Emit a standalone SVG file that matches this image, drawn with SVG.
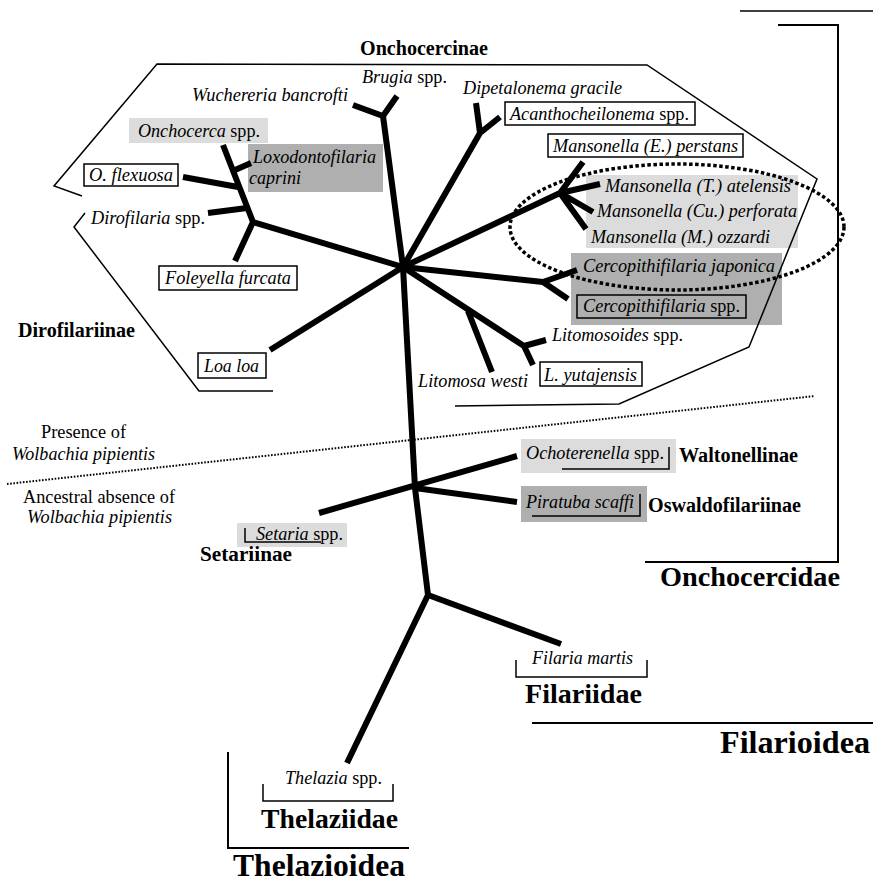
<svg xmlns="http://www.w3.org/2000/svg" width="873" height="883" viewBox="0 0 873 883">
<style>
text{font-family:"Times New Roman",Times,"Liberation Serif",serif;font-size:18px;fill:#000}
.i{font-style:italic}
.b{font-weight:bold;font-size:20px}
.B{font-weight:bold;font-size:28px}
.BB{font-weight:bold;font-size:31px}
.box{fill:#fff;stroke:#000;stroke-width:1.5}
.lt{fill:#dcdcdc}
.dk{fill:#afafaf}
.ln{fill:none;stroke:#000;stroke-width:1.5}
.br{fill:none;stroke:#000;stroke-width:6;stroke-linecap:butt;stroke-linejoin:round}
</style>
<rect width="873" height="883" fill="#fff"/>

<g id="shading">
<rect class="lt" x="129" y="118" width="139" height="25"/>
<rect class="dk" x="248" y="144" width="135" height="48"/>
<rect class="lt" x="586" y="175" width="212" height="73"/>
<rect class="dk" x="571" y="253" width="211" height="72"/>
<rect class="lt" x="521" y="439" width="155" height="34"/>
<rect class="dk" x="521" y="486" width="126" height="36"/>
<rect class="lt" x="237" y="523" width="110" height="24"/>
</g>

<g id="connectors">
<path class="br" d="M403,267 L383,116 M353,105 L383,116 L397,96"/>
<path class="br" d="M403,267 L480,133 M476,103 L480,133 L500,117"/>
<path class="br" d="M403,267 L253,222 L235,261 M253,222 L223,145 M247,208 L208,213 M238,187 L183,177 M235,170 L251,163"/>
<path class="br" d="M403,267 L270,350"/>
<path class="br" d="M403,267 L560,193 L583,162 M560,193 L600,184 M562,194 L593,212 M560,193 L586,229"/>
<path class="br" d="M403,267 L543,282 L577,270 M543,282 L568,299"/>
<path class="br" d="M403,267 L524,346 L546,340 M524,346 L533,365 M468,311 L492,372"/>
<path class="br" d="M403,267 L415,488 L428,595"/>
<path class="br" d="M319,513 L517,456 M415,488 L517,502"/>
<path class="br" d="M428,595 L347,763 M428,595 L561,644"/>
</g>

<g id="onchocercinae"><text class="b" x="360" y="55" textLength="128" lengthAdjust="spacingAndGlyphs">Onchocercinae</text></g>
<g id="brugia"><text x="362" y="83" textLength="85" lengthAdjust="spacingAndGlyphs"><tspan class="i">Brugia</tspan> spp.</text></g>
<g id="wuchereria"><text class="i" x="192" y="101" textLength="156" lengthAdjust="spacingAndGlyphs">Wuchereria bancrofti</text></g>
<g id="dipetalonema"><text class="i" x="463" y="94" textLength="159" lengthAdjust="spacingAndGlyphs">Dipetalonema gracile</text></g>
<g id="acanthocheilonema"><rect class="box" x="505" y="102" width="190" height="23"/><text x="510" y="120" textLength="179" lengthAdjust="spacingAndGlyphs"><tspan class="i">Acanthocheilonema</tspan> spp.</text></g>
<g id="perstans"><rect class="box" x="548" y="134" width="195" height="23"/><text class="i" x="553" y="152" textLength="185" lengthAdjust="spacingAndGlyphs">Mansonella (E.) perstans</text></g>
<g id="onchocerca"><text x="138" y="137" textLength="122" lengthAdjust="spacingAndGlyphs"><tspan class="i">Onchocerca</tspan> spp.</text></g>
<g id="loxodontofilaria"><text class="i" x="253" y="163" textLength="123" lengthAdjust="spacingAndGlyphs">Loxodontofilaria</text><text class="i" x="249" y="184" textLength="52" lengthAdjust="spacingAndGlyphs">caprini</text></g>
<g id="oflexuosa"><rect class="box" x="84" y="164" width="94" height="22"/><text class="i" x="89" y="181" textLength="84" lengthAdjust="spacingAndGlyphs">O. flexuosa</text></g>
<g id="dirofilaria"><text x="91" y="224" textLength="114" lengthAdjust="spacingAndGlyphs"><tspan class="i">Dirofilaria</tspan> spp.</text></g>
<g id="foleyella"><rect class="box" x="159" y="266" width="138" height="24"/><text class="i" x="165" y="284" textLength="126" lengthAdjust="spacingAndGlyphs">Foleyella furcata</text></g>
<g id="dirofilariinae"><text class="b" x="18" y="337" textLength="117" lengthAdjust="spacingAndGlyphs">Dirofilariinae</text></g>
<g id="loaloa"><rect class="box" x="198" y="353" width="68" height="25"/><text class="i" x="204" y="372" textLength="55" lengthAdjust="spacingAndGlyphs">Loa loa</text></g>
<g id="atelensis"><text class="i" x="605" y="192" textLength="186" lengthAdjust="spacingAndGlyphs">Mansonella (T.) atelensis</text></g>
<g id="perforata"><text class="i" x="597" y="217" textLength="200" lengthAdjust="spacingAndGlyphs">Mansonella (Cu.) perforata</text></g>
<g id="ozzardi"><text class="i" x="591" y="243" textLength="179" lengthAdjust="spacingAndGlyphs">Mansonella (M.) ozzardi</text></g>
<g id="japonica"><text class="i" x="583" y="272" textLength="192" lengthAdjust="spacingAndGlyphs">Cercopithifilaria japonica</text></g>
<g id="cercopithifilaria"><rect x="577" y="295" width="169" height="23" fill="none" stroke="#000" stroke-width="1.5"/><text x="583" y="312" textLength="157" lengthAdjust="spacingAndGlyphs"><tspan class="i">Cercopithifilaria</tspan> spp.</text></g>
<g id="litomosoides"><text x="552" y="341" textLength="131" lengthAdjust="spacingAndGlyphs"><tspan class="i">Litomosoides</tspan> spp.</text></g>
<g id="yutajensis"><rect class="box" x="540" y="362" width="102" height="24"/><text class="i" x="544" y="381" textLength="93" lengthAdjust="spacingAndGlyphs">L. yutajensis</text></g>
<g id="litomosa"><text class="i" x="418" y="387" textLength="110" lengthAdjust="spacingAndGlyphs">Litomosa westi</text></g>

<g id="outlines">
<path class="ln" d="M455,406 L619,404 L749,347 L817,179 L647,65 L157,64 L54,186 L82,196"/>
<path class="ln" d="M85,213 L74,227 L199,391 L273,391"/>
<ellipse cx="677" cy="227" rx="167" ry="63" fill="none" stroke="#000" stroke-width="3.5" stroke-dasharray="3.5 2.5"/>
<path d="M7,484 L815,396" fill="none" stroke="#000" stroke-width="2" stroke-dasharray="1.6 1.6"/>
<path class="ln" d="M740,11 L873,11"/>
<path d="M778,25 L838,25 L838,562 L645,562" fill="none" stroke="#000" stroke-width="2"/>
</g>

<g id="presence"><text x="41" y="438" textLength="85" lengthAdjust="spacingAndGlyphs">Presence of</text><text class="i" x="12" y="460" textLength="143" lengthAdjust="spacingAndGlyphs">Wolbachia pipientis</text></g>
<g id="absence"><text x="23" y="503" textLength="152" lengthAdjust="spacingAndGlyphs">Ancestral absence of</text><text class="i" x="27" y="523" textLength="145" lengthAdjust="spacingAndGlyphs">Wolbachia pipientis</text></g>

<g id="ochoterenella"><text x="526" y="459" textLength="138" lengthAdjust="spacingAndGlyphs"><tspan class="i">Ochoterenella</tspan> spp.</text><path class="ln" d="M562,469 L669,469 L669,447"/></g>
<g id="waltonellinae"><text class="b" x="679" y="462" textLength="119" lengthAdjust="spacingAndGlyphs">Waltonellinae</text></g>
<g id="piratuba"><text class="i" x="526" y="508" textLength="108" lengthAdjust="spacingAndGlyphs">Piratuba scaffi</text><path class="ln" d="M532,516 L640,516 L640,494"/></g>
<g id="oswaldofilariinae"><text class="b" x="648" y="512" textLength="153" lengthAdjust="spacingAndGlyphs">Oswaldofilariinae</text></g>
<g id="setaria"><text x="256" y="540" textLength="87" lengthAdjust="spacingAndGlyphs"><tspan class="i">Setaria</tspan> spp.</text><path class="ln" d="M245,528 L245,542 L321,542"/></g>
<g id="setariinae"><text class="b" x="200" y="561" textLength="92" lengthAdjust="spacingAndGlyphs">Setariinae</text></g>
<g id="onchocercidae"><text class="B" x="660" y="586" textLength="180" lengthAdjust="spacingAndGlyphs">Onchocercidae</text></g>

<g id="filaria"><text class="i" x="532" y="664" textLength="101" lengthAdjust="spacingAndGlyphs">Filaria martis</text><path class="ln" d="M516,660 L516,677 L647,677 L647,660"/></g>
<g id="filariidae"><text class="B" x="525" y="703" textLength="117" lengthAdjust="spacingAndGlyphs">Filariidae</text></g>
<g id="filarioidea"><path d="M532,723 L873,723" fill="none" stroke="#000" stroke-width="2"/><text class="BB" x="720" y="753" textLength="150" lengthAdjust="spacingAndGlyphs">Filarioidea</text></g>

<g id="thelazia"><text x="285" y="784" textLength="97" lengthAdjust="spacingAndGlyphs"><tspan class="i">Thelazia</tspan> spp.</text><path class="ln" d="M263,784 L263,801 L393,801 L393,784"/></g>
<g id="thelaziidae"><text class="B" x="261" y="828" textLength="137" lengthAdjust="spacingAndGlyphs">Thelaziidae</text></g>
<g id="thelazioidea"><path d="M228,752 L228,848 L409,848" fill="none" stroke="#000" stroke-width="2"/><text class="BB" x="233" y="876" textLength="172" lengthAdjust="spacingAndGlyphs">Thelazioidea</text></g>
</svg>
